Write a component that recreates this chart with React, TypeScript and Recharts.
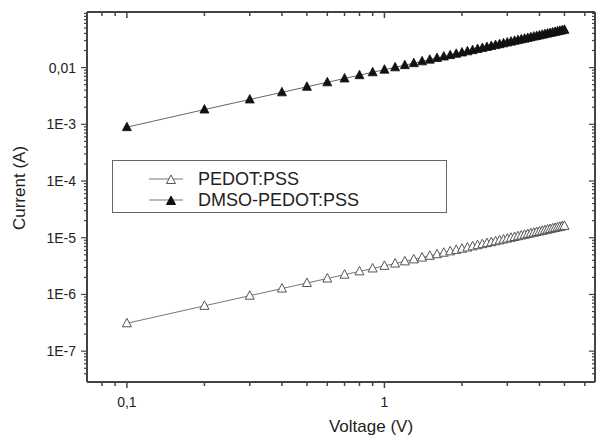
import React from 'react';
import { LineChart, Line, XAxis, YAxis, Legend } from 'recharts';

const voltage = [0.1, 0.2, 0.3, 0.4, 0.5, 0.6, 0.7, 0.8, 0.9, 1.0, 1.1, 1.2, 1.3, 1.4, 1.5, 1.6, 1.7, 1.8, 1.9, 2.0, 2.1, 2.2, 2.3, 2.4, 2.5, 2.6, 2.7, 2.8, 2.9, 3.0, 3.1, 3.2, 3.3, 3.4, 3.5, 3.6, 3.7, 3.8, 3.9, 4.0, 4.1, 4.2, 4.3, 4.4, 4.5, 4.6, 4.7, 4.8, 4.9, 5.0];

const pedotCurrent = [3.1e-7, 6.3e-7, 9.5e-7, 1.27e-6, 1.59e-6, 1.91e-6, 2.23e-6, 2.55e-6, 2.87e-6, 3.19e-6, 3.51e-6, 3.83e-6, 4.15e-6, 4.47e-6, 4.8e-6, 5.12e-6, 5.44e-6, 5.76e-6, 6.09e-6, 6.41e-6, 6.73e-6, 7.06e-6, 7.38e-6, 7.7e-6, 8.03e-6, 8.35e-6, 8.68e-6, 9.0e-6, 9.33e-6, 9.65e-6, 9.98e-6, 1.03e-5, 1.063e-5, 1.096e-5, 1.128e-5, 1.161e-5, 1.194e-5, 1.226e-5, 1.259e-5, 1.292e-5, 1.325e-5, 1.357e-5, 1.39e-5, 1.423e-5, 1.456e-5, 1.489e-5, 1.522e-5, 1.555e-5, 1.588e-5, 1.62e-5];

const dmsoCurrent = [8.9e-4, 1.82e-3, 2.74e-3, 3.66e-3, 4.58e-3, 5.5e-3, 6.42e-3, 7.34e-3, 8.26e-3, 9.18e-3, 0.0101, 0.01103, 0.01195, 0.01288, 0.0138, 0.01473, 0.01565, 0.01658, 0.0175, 0.01843, 0.01936, 0.02029, 0.02121, 0.02214, 0.02307, 0.024, 0.02493, 0.02586, 0.02679, 0.02772, 0.02865, 0.02958, 0.03051, 0.03144, 0.03237, 0.0333, 0.03424, 0.03517, 0.0361, 0.03703, 0.03797, 0.0389, 0.03983, 0.04077, 0.0417, 0.04264, 0.04357, 0.04451, 0.04544, 0.04638];

const seriesNames = ['PEDOT:PSS', 'DMSO-PEDOT:PSS'];

const xTicks = [0.08, 0.09, 0.1, 0.2, 0.3, 0.4, 0.5, 0.6, 0.7, 0.8, 0.9, 1, 2, 3, 4, 5, 6];
const xMajor = [0.1, 1];
const xMajorLabels = ['0,1', '1'];

const yTicks = [4e-8, 5e-8, 6e-8, 7e-8, 8e-8, 9e-8,
  1e-7, 2e-7, 3e-7, 4e-7, 5e-7, 6e-7, 7e-7, 8e-7, 9e-7,
  1e-6, 2e-6, 3e-6, 4e-6, 5e-6, 6e-6, 7e-6, 8e-6, 9e-6,
  1e-5, 2e-5, 3e-5, 4e-5, 5e-5, 6e-5, 7e-5, 8e-5, 9e-5,
  1e-4, 2e-4, 3e-4, 4e-4, 5e-4, 6e-4, 7e-4, 8e-4, 9e-4,
  1e-3, 2e-3, 3e-3, 4e-3, 5e-3, 6e-3, 7e-3, 8e-3, 9e-3,
  0.01, 0.02, 0.03, 0.04, 0.05, 0.06, 0.07, 0.08, 0.09];
const yMajor = [1e-7, 1e-6, 1e-5, 1e-4, 1e-3, 0.01];
const yMajorLabels = ['1E-7', '1E-6', '1E-5', '1E-4', '1E-3', '0,01'];

const xDomain = [0.07, 6.57];
const yDomain = [2.86e-8, 0.0955];

const data = voltage.map((v, i) => ({ v, pedot: pedotCurrent[i], dmso: dmsoCurrent[i] }));

const AXIS = '#444';
const TEXT = '#222';
const FONT = '"Liberation Sans", Arial, sans-serif';

const findMajor = (list: number[], val: number) =>
  list.findIndex((m) => Math.abs(Math.log10(m) - Math.log10(val)) < 1e-6);

const BottomTick = (props: any) => {
  const { x, y, payload } = props;
  const idx = findMajor(xMajor, payload.value);
  const len = idx >= 0 ? 6 : 4;
  return (
    <g>
      <line x1={x} x2={x} y1={y} y2={y + len} stroke={AXIS} strokeWidth={1.5} />
      {idx >= 0 && (
        <text x={x} y={y + 25} textAnchor="middle" fontSize={14} fill={TEXT} fontFamily={FONT}>
          {xMajorLabels[idx]}
        </text>
      )}
    </g>
  );
};

const TopTick = (props: any) => {
  const { x, y, payload } = props;
  const idx = findMajor(xMajor, payload.value);
  const len = idx >= 0 ? 6 : 4;
  return <line x1={x} x2={x} y1={y} y2={y + len} stroke={AXIS} strokeWidth={1.5} />;
};

const LeftTick = (props: any) => {
  const { x, y, payload } = props;
  const idx = findMajor(yMajor, payload.value);
  const len = idx >= 0 ? 6 : 3;
  return (
    <g>
      <line x1={x} x2={x - len} y1={y} y2={y} stroke={AXIS} strokeWidth={1.2} />
      {idx >= 0 && (
        <text x={x - 11} y={y + 5} textAnchor="end" fontSize={14} fill={TEXT} fontFamily={FONT}>
          {yMajorLabels[idx]}
        </text>
      )}
    </g>
  );
};

const RightTick = (props: any) => {
  const { x, y, payload } = props;
  const idx = findMajor(yMajor, payload.value);
  const len = idx >= 0 ? 6 : 3;
  return <line x1={x} x2={x - len} y1={y} y2={y} stroke={AXIS} strokeWidth={1.2} />;
};

const triPath = (cx: number, cy: number) =>
  `M${cx},${cy - 5} L${cx + 4.5},${cy + 3.5} L${cx - 4.5},${cy + 3.5} Z`;

const OpenTri = (props: any) => {
  const { cx, cy, index } = props;
  if (cx == null || cy == null) return <g key={index} />;
  return <path key={index} d={triPath(cx, cy)} fill="#fff" stroke="#555" strokeWidth={1} />;
};

const FilledTri = (props: any) => {
  const { cx, cy, index } = props;
  if (cx == null || cy == null) return <g key={index} />;
  return <path key={index} d={triPath(cx, cy)} fill="#111" stroke="#111" strokeWidth={0.8} />;
};

const LegendBox = (props: any) => {
  const payload = [...(props.payload || [])].sort(
    (a: any, b: any) => seriesNames.indexOf(a.value) - seriesNames.indexOf(b.value)
  );
  return (
    <div
      style={{
        width: 335,
        height: 53,
        boxSizing: 'border-box',
        border: '1.5px solid #666',
        background: '#fff',
        paddingTop: 7,
        fontFamily: FONT,
      }}
    >
      {payload.map((entry: any, i: number) => {
        const open = entry.value === seriesNames[0];
        return (
          <div key={i} style={{ display: 'flex', alignItems: 'center', height: 21 }}>
            <svg width={80} height={16} style={{ display: 'block' }}>
              <line x1={36} x2={70} y1={8} y2={8} stroke="#777" strokeWidth={1} />
              <path
                d={triPath(58, 9)}
                fill={open ? '#fff' : '#111'}
                stroke={open ? '#555' : '#111'}
                strokeWidth={1}
              />
            </svg>
            <span style={{ fontSize: 18, color: TEXT, marginLeft: 5, lineHeight: '18px' }}>{entry.value}</span>
          </div>
        );
      })}
    </div>
  );
};

export default function App() {
  return (
    <div style={{ position: 'absolute', left: 0, top: 0, width: 596, height: 437, background: '#fff', fontFamily: FONT }}>
      <LineChart width={596} height={437} data={data} margin={{ top: 11, right: 0, bottom: 25, left: 27 }}>
        <XAxis
          xAxisId="b"
          dataKey="v"
          type="number"
          scale="log"
          domain={xDomain}
          allowDataOverflow
          ticks={xTicks}
          interval={0}
          tickSize={0}
          tickMargin={0}
          tickLine={false}
          tick={<BottomTick />}
          height={30}
          axisLine={{ stroke: AXIS, strokeWidth: 2 }}
          label={(p: any) => (
            <text x={371} y={432} textAnchor="middle" fontSize={17} fill={TEXT} fontFamily={FONT}>
              Voltage (V)
            </text>
          )}
        />
        <XAxis
          xAxisId="t"
          orientation="top"
          dataKey="v"
          type="number"
          scale="log"
          domain={xDomain}
          allowDataOverflow
          ticks={xTicks}
          interval={0}
          tickSize={0}
          tickMargin={0}
          tickLine={false}
          tick={<TopTick />}
          height={1}
          axisLine={{ stroke: AXIS, strokeWidth: 2 }}
        />
        <YAxis
          yAxisId="l"
          type="number"
          scale="log"
          domain={yDomain}
          allowDataOverflow
          ticks={yTicks}
          interval={0}
          tickSize={0}
          tickMargin={0}
          tickLine={false}
          tick={<LeftTick />}
          width={60}
          axisLine={{ stroke: AXIS, strokeWidth: 2 }}
          label={(p: any) => (
            <text
              x={19}
              y={188}
              transform="rotate(-90 19 188)"
              textAnchor="middle"
              dominantBaseline="central"
              fontSize={17}
              fill={TEXT}
              fontFamily={FONT}
            >
              Current (A)
            </text>
          )}
        />
        <YAxis
          yAxisId="r"
          orientation="right"
          type="number"
          scale="log"
          domain={yDomain}
          allowDataOverflow
          ticks={yTicks}
          interval={0}
          tickSize={0}
          tickMargin={0}
          tickLine={false}
          tick={<RightTick />}
          width={1}
          axisLine={{ stroke: AXIS, strokeWidth: 2 }}
        />
        <Legend
          layout="horizontal"
          verticalAlign="middle"
          align="center"
          content={<LegendBox />}
          wrapperStyle={{ position: 'absolute', left: 112, top: 160, width: 335, height: 53 }}
        />
        <Line
          xAxisId="b"
          yAxisId="l"
          dataKey="pedot"
          name={seriesNames[0]}
          stroke="#777"
          strokeWidth={1}
          dot={<OpenTri />}
          activeDot={false}
          isAnimationActive={false}
        />
        <Line
          xAxisId="b"
          yAxisId="l"
          dataKey="dmso"
          name={seriesNames[1]}
          stroke="#666"
          strokeWidth={1}
          dot={<FilledTri />}
          activeDot={false}
          isAnimationActive={false}
        />
      </LineChart>
    </div>
  );
}
